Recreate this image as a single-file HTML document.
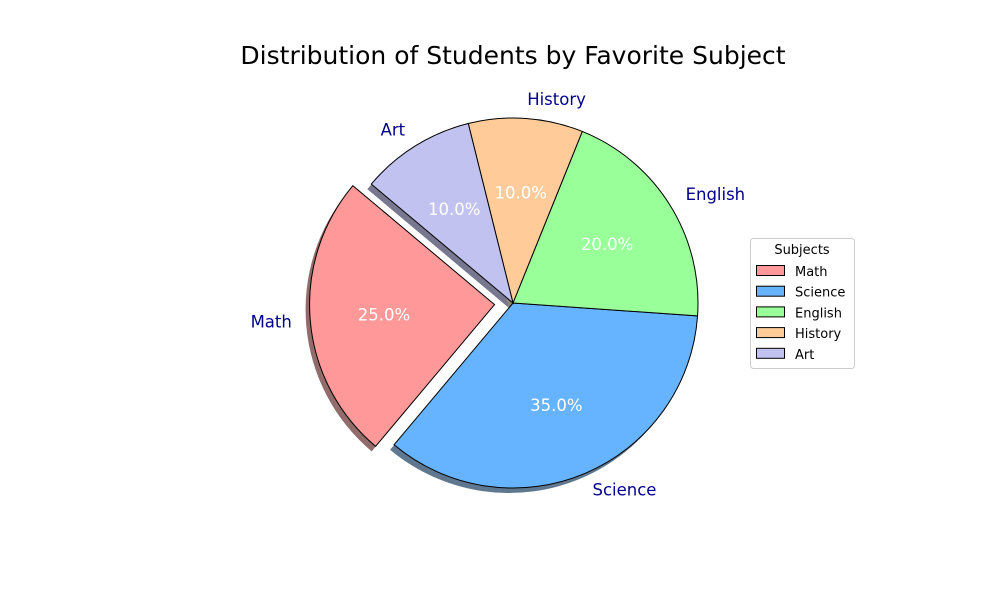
<!DOCTYPE html>
<html><head><meta charset="utf-8"><style>
body{margin:0;background:#fff;}
svg{display:block;font-family:"DejaVu Sans","Liberation Sans",sans-serif;}
</style></head><body>
<svg id="chart" width="1000" height="600" viewBox="0 0 1000 600">
<text x="513" y="64" text-anchor="middle" font-size="25" fill="#000">Distribution of Students by Favorite Subject</text>
<g id="shadows"></g>
<g id="slices"></g>
<g id="labels"></g>
<g id="legend"></g>
</svg>
<script>
const categories = ["Math","Science","English","History","Art"];
const values = [25,35,20,10,10];
const colors = ["#ff9999","#66b3ff","#99ff99","#ffcc99","#c2c2f0"];
const shadowColors = ["#6e3a3a","#2a4a6a","#3a6a3a","#6a5a3a","#4a4a6a"];
const explode = [0.1,0,0,0,0];

const NS="http://www.w3.org/2000/svg";
const cx=513, cy=303, R=185, startAngle=140;
const total=values.reduce((a,b)=>a+b,0);
function pt(x,y,r,deg){const a=deg*Math.PI/180;return [x+r*Math.cos(a), y-r*Math.sin(a)];}
function mk(tag,attrs,parent){const e=document.createElementNS(NS,tag);for(const k in attrs)e.setAttribute(k,attrs[k]);parent.appendChild(e);return e;}
const gS=document.getElementById('shadows'),gP=document.getElementById('slices'),gL=document.getElementById('labels'),gLeg=document.getElementById('legend');
let ang=startAngle;
values.forEach((v,i)=>{
  const sweep=v/total*360, a0=ang, a1=ang+sweep, mid=(a0+a1)/2;
  const [ox,oy]=pt(0,0,explode[i]*R,mid);
  const x=cx+ox,y=cy+oy;
  const p0=pt(x,y,R,a0),p1=pt(x,y,R,a1);
  const large=sweep>180?1:0;
  const d=`M${x},${y} L${p0[0]},${p0[1]} A${R},${R} 0 ${large} 0 ${p1[0]},${p1[1]} Z`;
  const sh=mk('path',{d:d,fill:shadowColors[i],opacity:'0.75',transform:'translate(-4,5)'},gS);
  
  
  const s=mk('path',{d:d,fill:colors[i],stroke:'#000','stroke-width':'1'},gP);
  
  
  const lp=pt(x,y,R*1.1,mid);
  const anchor=Math.cos(mid*Math.PI/180)>0?'start':'end';
  const t=mk('text',{x:lp[0],y:lp[1]+5,'text-anchor':anchor,'font-size':'16.5',fill:'#00008b'},gL);
  t.textContent=categories[i];
  
  
  const pp=pt(x,y,R*0.6,mid);
  const pc=mk('text',{x:pp[0],y:pp[1]+6,'text-anchor':'middle','font-size':'16.5',fill:'#fff'},gL);
  pc.textContent=(v/total*100).toFixed(1)+'%';
  
  
  ang=a1;
});
const box=mk('rect',{x:750.5,y:238.5,width:104,height:130,rx:3,fill:'#fff',stroke:'#ccc'},gLeg);


const lt=mk('text',{x:802,y:254,'text-anchor':'middle','font-size':'13',fill:'#000'},gLeg);
lt.textContent='Subjects';


categories.forEach((c,i)=>{
  const y=271+i*20.7;
  const r=mk('rect',{x:756.5,y:y-5.5,width:28,height:10,fill:colors[i],stroke:'#000'},gLeg);
  
  
  const t=mk('text',{x:795,y:y+5,'font-size':'13',fill:'#000'},gLeg);
  t.textContent=c;
  
  
});
</script>
</body></html>
